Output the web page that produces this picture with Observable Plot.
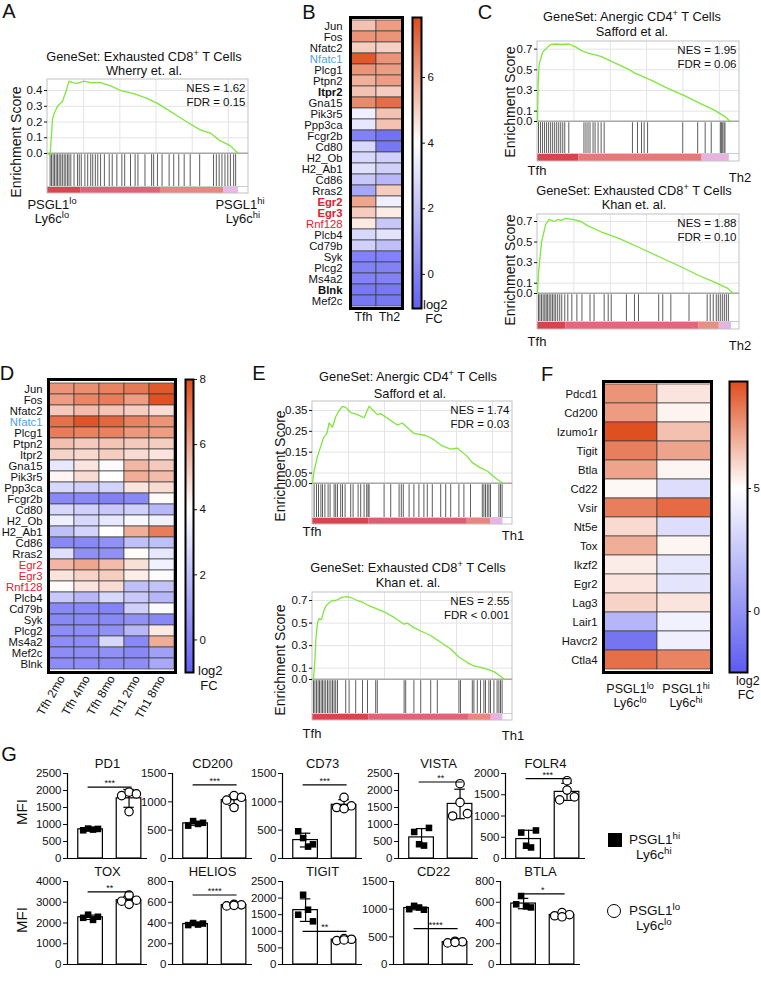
<!DOCTYPE html>
<html><head><meta charset="utf-8">
<script src="https://cdn.jsdelivr.net/npm/d3@7"></script>
<script src="https://cdn.jsdelivr.net/npm/@observablehq/plot@0.6"></script>
<style>
body{margin:0;background:#fff;}
#fig{position:relative;width:761px;height:981px;overflow:hidden;background:#fff;font-family:"Liberation Sans",Arial,Helvetica,sans-serif;color:#111;}
.lbl{position:absolute;white-space:nowrap;line-height:1;}
#fig svg{position:absolute;overflow:visible;}
sup{font-size:0.72em;vertical-align:baseline;position:relative;top:-0.5em;}
</style></head><body><div id="fig"></div>
<script>
// ================= DATA =================
// ---- Panel A (GSEA, Wherry exhausted CD8) ----
const aRank = [0, 1.3, 2.5, 3.5, 5.0, 7.4, 9.1, 10.7, 12.4, 14.9, 18.2, 21.5, 26.4, 31.4, 36.4, 43, 49.6, 54.5, 59.5, 64.5, 69.4, 76, 81, 86, 90.9, 95];
const aES = [0, -0.01, 0.22, 0.26, 0.30, 0.33, 0.39, 0.46, 0.45, 0.445, 0.46, 0.45, 0.45, 0.43, 0.40, 0.38, 0.35, 0.32, 0.28, 0.24, 0.20, 0.15, 0.13, 0.08, 0.05, 0.0];
const aHits = [1.3,2,2.8,3.5,4.3,5,5.8,6.6,7.4,8.3,9.1,10,10.7,11.6,13.2,14.9,15.8,16.8,18.6,20,21.5,22.5,23.8,25,26.4,28.3,30.7,32.2,34.5,37,38.4,41.3,43.6,45,48.5,51.8,52.8,54.7,57,60.5,62.8,65.3,68,71,75.7,82.6,84,85.4,86.8,88.3,89.7,91,92.6,93.6];
const aSegStart = [0, 16.5, 56.2, 87.6];
const aSegEnd = [16.5, 56.2, 87.6, 95];
const aSegColor = ["#d94550", "#df6277", "#e8877f", "#e9b8e6"];
const aStats = "NES = 1.62\nFDR = 0.15";

// ---- Panel C top (Anergic CD4, Safford) ----
const c1Rank = [0, 0.3, 0.8, 2.5, 5, 6.6, 9.1, 11.6, 15.7, 19, 22.3, 25.6, 31.4, 38, 44.6, 48, 56.2, 64.5, 72.7, 81, 87.6, 92.6, 95.5];
const c1ES = [0, 0.35, 0.55, 0.67, 0.72, 0.745, 0.75, 0.745, 0.75, 0.72, 0.68, 0.66, 0.63, 0.57, 0.51, 0.47, 0.40, 0.32, 0.25, 0.17, 0.11, 0.05, 0.0];
const c1Hits = [0.5,1.5,2.5,3.5,4.5,5.5,6.5,7.5,8.5,9.5,10.5,11.5,12.5,13.5,15.5,23,24,25,26,27.5,28.5,30,31.5,33,47,49.5,51.5,52.8,54.5,71.9,79.3,83,86,90.5,91,91.5,92.3,92.8];
const c1SegStart = [0, 20.5, 81.5];
const c1SegEnd = [20.5, 81.5, 95];
const c1SegColor = ["#d8434e", "#e27a78", "#e7b3e0"];
const c1Stats = "NES = 1.95\nFDR = 0.06";

// ---- Panel C bottom (Exhausted CD8, Khan) ----
const c2Rank = [0, 0.5, 2, 4, 5.8, 8.3, 10, 11.6, 14, 17.4, 21.5, 24.8, 31.4, 39.7, 51.2, 61, 71, 79.3, 87.6, 94.2, 97];
const c2ES = [0, 0.2, 0.5, 0.67, 0.72, 0.70, 0.72, 0.71, 0.73, 0.72, 0.70, 0.66, 0.60, 0.54, 0.44, 0.35, 0.26, 0.18, 0.11, 0.05, 0];
const c2Hits = [0.5,1.2,2,2.8,3.6,4.3,5,5.8,6.6,7.4,8.2,9,10,11,12,13.5,15,17,19.5,22,26,28,33,35,36.5,44,48,50,60,62,66,75,84,85.5,87,88.5,89.5,90.5,91.5,92.5,93.5,94.5];
const c2SegStart = [0, 14, 80, 90];
const c2SegEnd = [14, 80, 90, 96];
const c2SegColor = ["#d8434e", "#e0687a", "#e8907f", "#e6b3e2"];
const c2Stats = "NES = 1.88\nFDR = 0.10";

// ---- Panel E top (Anergic CD4, Safford) ----
const e1Rank = [0, 0.8, 2.5, 4.2, 5.5, 7.2, 8.3, 10, 11.6, 13.3, 15, 16.6, 19.1, 22.5, 25.8, 28.3, 32.4, 34.1, 42.4, 44.9, 50.7, 56.6, 60.7, 64.9, 69.1, 72.4, 77.4, 79.9, 84, 87.4, 89.9, 92.3, 95.3];
const e1ES = [0, 0.06, 0.13, 0.18, 0.22, 0.24, 0.29, 0.27, 0.32, 0.35, 0.37, 0.365, 0.34, 0.33, 0.315, 0.37, 0.33, 0.335, 0.28, 0.29, 0.24, 0.23, 0.21, 0.18, 0.165, 0.17, 0.13, 0.10, 0.075, 0.06, 0.04, 0.02, 0];
const e1Hits = [0.8,2,3,4.2,5,6.2,7.8,8.8,10.8,11.6,12.5,14.1,15,16.3,19.1,20.3,22.8,24.1,25.8,27.1,27.8,28.3,35.8,39.1,43.3,44.4,45.4,48.3,50.7,53.2,55.7,57.4,59.9,64.1,66.6,69.1,73.2,75.7,79,84.9,85.7,86.5,87.4,88.2,89,93.2,94,94.8];
const e1SegStart = [0, 28.3, 77.4, 89];
const e1SegEnd = [28.3, 77.4, 89, 95.2];
const e1SegColor = ["#d9444e", "#dd5f72", "#e8877e", "#e7b5e5"];
const e1Stats = "NES = 1.74\nFDR = 0.03";

// ---- Panel E bottom (Exhausted CD8, Khan) ----
const e2Rank = [0, 0.5, 1.2, 1.7, 2.5, 3.3, 4.5, 5.5, 6.7, 8.3, 10, 11.6, 13.3, 15, 17.5, 20, 22.5, 25, 27.5, 31.6, 35.8, 40.8, 45.8, 47.4, 50.7, 54.1, 59.1, 64.1, 69.1, 73.2, 77.4, 80.7, 85.7, 90.7, 94.8, 95.7];
const e2ES = [0, 0.0, 0.17, 0.36, 0.5, 0.54, 0.53, 0.6, 0.65, 0.68, 0.70, 0.70, 0.715, 0.73, 0.735, 0.72, 0.70, 0.685, 0.66, 0.63, 0.60, 0.55, 0.49, 0.50, 0.46, 0.43, 0.39, 0.33, 0.27, 0.20, 0.15, 0.12, 0.10, 0.07, 0.02, 0.0];
const e2Hits = [0.5,1.2,2,2.8,3.5,4.3,5,5.8,6.6,7.5,8.3,9.2,10,10.8,11.6,12.5,16.6,18.3,21.6,25,27.5,31.6,32.4,45.8,46.6,50.7,54.1,59.1,62.4,73.2,74,79.9,80.7,82.4,84,85.7,86.5,88.2,89,90.7,92.3,93.2,94,94.8];
const e2SegStart = [0, 28.3, 78, 89.4];
const e2SegEnd = [28.3, 78, 89.4, 95.2];
const e2SegColor = ["#d9444e", "#df6478", "#e7887f", "#e6b3e3"];
const e2Stats = "NES = 2.55\nFDR < 0.001";

// ---- Panel B heatmap ----
const bGenes = ["Jun","Fos","Nfatc2","Nfatc1","Plcg1","Ptpn2","Itpr2","Gna15","Pik3r5","Ppp3ca","Fcgr2b","Cd80","H2_Ob","H2_Ab1","Cd86","Rras2","Egr2","Egr3","Rnf128","Plcb4","Cd79b","Syk","Plcg2","Ms4a2","Blnk","Mef2c"];
const bCols = ["Tfh", "Th2"];
const bTfh = [5.3, 6.3, 5.1, 7.6, 6.3, 5.7, 5.3, 6.5, 3.5, 3.25, 0.0, 2.75, 2.75, 3.0, 2.2, 1.2, 5.9, 5.1, 4.45, 2.75, 2.5, 0.0, 0.0, 0.0, -0.3, -0.3];
const bTh2 = [6.1, 6.3, 5.0, 6.3, 6.1, 6.1, 5.1, 7.1, 5.3, 5.3, -0.5, -0.3, 2.5, 2.5, 1.7, 5.1, 3.5, 4.4, 2.2, 3.1, 2.0, 0.0, 0.0, 0.0, -0.3, -0.3];
const bTicks = [0, 2, 4, 6];
const bBold = ["Itpr2", "Egr2", "Egr3", "Blnk"];
const bRed = ["Egr2", "Egr3", "Rnf128"];
const bBlue = ["Nfatc1"];

// ---- Panel D heatmap ----
const dGenes = ["Jun","Fos","Nfatc2","Nfatc1","Plcg1","Ptpn2","Itpr2","Gna15","Pik3r5","Ppp3ca","Fcgr2b","Cd80","H2_Ob","H2_Ab1","Cd86","Rras2","Egr2","Egr3","Rnf128","Plcb4","Cd79b","Syk","Plcg2","Ms4a2","Mef2c","Blnk"];
const dCols = ["Tfh 2mo", "Tfh 4mo", "Tfh 8mo", "Th1 2mo", "Th1 8mo"];
const dTfh2 = [6.4, 6.2, 5.2, 7.2, 6.9, 5.4, 5.0, 3.25, 4.2, 2.75, 0.25, 2.75, 3.5, 2.0, 0.25, 3.0, 5.6, 4.6, 4.1, 2.25, 0.25, 0.25, 0.4, 0.4, 0.4, 0.4];
const dTfh4 = [6.5, 6.7, 5.5, 7.8, 6.8, 5.2, 4.9, 4.6, 4.8, 2.5, 0.25, 2.5, 2.75, 2.6, 0.25, 0.5, 6.0, 5.0, 4.6, 1.75, 0.25, 0.25, 0.4, 0.4, 0.4, 0.4];
const dTfh8 = [6.8, 6.9, 5.3, 7.4, 6.8, 5.3, 5.1, 3.85, 4.0, 2.6, 0.0, 2.25, 3.25, 4.0, 0.5, 0.5, 5.5, 5.1, 4.8, 2.75, 0.1, 0.25, 0.5, 2.75, 0.5, 0.4];
const dTh12 = [7.0, 6.2, 5.1, 6.8, 6.3, 5.2, 4.8, 5.6, 5.8, 4.6, 0.25, 2.5, 3.75, 5.8, 2.0, 4.1, 4.7, 4.4, 2.0, 2.25, 2.5, 0.5, 1.75, 0.25, 0.25, 0.4];
const dTh18 = [7.7, 7.9, 4.8, 6.4, 6.2, 5.1, 4.6, 5.2, 5.5, 4.8, 4.1, 1.75, 3.6, 6.9, 2.0, 3.25, 3.6, 3.9, 2.1, 1.75, 3.85, 0.25, 4.5, 5.8, 1.0, 1.25];
const dTicks = [0, 2, 4, 6, 8];
const dRed = ["Egr2", "Egr3", "Rnf128"];
const dBlue = ["Nfatc1"];

// ---- Panel F heatmap ----
const fGenes = ["Pdcd1","Cd200","Izumo1r","Tigit","Btla","Cd22","Vsir","Nt5e","Tox","Ikzf2","Egr2","Lag3","Lair1","Havcr2","Ctla4"];
const fCols = ["lo", "hi"];
const fLo = [7.6, 7.4, 9.25, 8.1, 7.2, 5.2, 8.1, 5.9, 7.0, 5.45, 5.65, 6.1, 1.6, -1.35, 8.5];
const fHi = [5.65, 5.3, 6.5, 7.2, 5.25, 3.5, 8.6, 3.5, 5.25, 3.9, 3.75, 5.65, 4.4, 4.25, 8.0];
const fTicks = [0, 5];

// ---- Panel G bar charts ----
const gMarkers = ["PD1", "CD200", "CD73", "VISTA", "FOLR4", "TOX", "HELIOS", "TIGIT", "CD22", "BTLA"];
const gHi = [[830, 880, 850, 870], [580, 660, 610, 630], [480, 360, 210, 250], [780, 420, 380, 900], [610, 300, 260, 660],
             [2250, 2400, 2150, 2300], [380, 400, 385, 395], [1500, 2100, 1650, 1300], [1000, 1060, 1030, 990], [580, 660, 560, 550]];
const gLo = [[1850, 1950, 1900, 1380], [1030, 1110, 1080, 900], [900, 1080, 930, 880], [1250, 2200, 1320, 1650], [1380, 1830, 1450, 1610],
             [3050, 3350, 3100, 2900], [565, 580, 575, 570], [720, 780, 760, 740], [390, 420, 410, 400], [470, 500, 480, 460]];
const gTicks = [[0,500,1000,1500,2000,2500], [0,500,1000,1500], [0,500,1000,1500], [0,500,1000,1500,2000,2500], [0,500,1000,1500,2000],
                [0,1000,2000,3000,4000], [0,200,400,600,800], [0,500,1000,1500,2000,2500], [0,500,1000,1500], [0,200,400,600,800]];
const gStars = ["***", "***", "***", "**", "***", "**", "****", "**", "****", "*"];
const gSig = [2100, 1300, 1300, 2250, 1880, 3500, 670, 1000, 650, 680];

// ================= RENDERING =================
const FONT = '"Liberation Sans", Arial, Helvetica, sans-serif';
const STYLE = {background: "transparent", fontFamily: FONT, overflow: "visible", color: "#111"};
const fig = document.getElementById("fig");
const GRID_X = [18, 36, 54, 72, 90];
const SQ_OFF = [-0.24, -0.08, 0.08, 0.24];
const CI_OFF = [-0.24, 0, 0.24, 0];

function put(svg, left, top) {
  svg.style.left = left + "px";
  svg.style.top = top + "px";
  fig.appendChild(svg);
}
function T(html, x, y, o = {}) {
  const d = document.createElement("div");
  d.className = "lbl";
  d.innerHTML = html;
  d.style.left = x + "px";
  d.style.top = y + "px";
  d.style.fontSize = (o.size || 12) + "px";
  if (o.weight) d.style.fontWeight = o.weight;
  if (o.color) d.style.color = o.color;
  const a = o.anchor || "middle";
  const tx = a === "start" ? "0" : a === "end" ? "-100%" : "-50%";
  d.style.transform = `translate(${tx},-50%)` + (o.rotate ? ` rotate(${o.rotate}deg)` : "");
  fig.appendChild(d);
  return d;
}

function gsea(c) {
  const ml = 32, mr = 2, mt = 1, mb = 1;
  const k = c.esH / c.esTop;
  const yMin = -c.hitsH / k;
  const yBar = -(c.hitsH - c.barH) / k;
  const yHit = -1.2 / k;
  const pts = c.rank.map((r, i) => ({r, v: c.es[i]}));
  const segMarks = c.segStart.map((a, i) =>
    Plot.rect([{a, b: c.segEnd[i]}], {x1: "a", x2: "b", y1: yMin, y2: yBar, fill: c.segColor[i]}));
  const svg = Plot.plot({
    width: ml + c.boxW + mr, height: mt + c.esH + c.hitsH + mb,
    marginLeft: ml, marginRight: mr, marginTop: mt, marginBottom: mb,
    x: {domain: [0, 100], axis: null},
    y: {domain: [yMin, c.esTop], axis: null},
    style: STYLE,
    marks: [
      Plot.ruleX(GRID_X, {y1: 0, y2: c.esTop, stroke: "#e4e4e4"}),
      Plot.ruleY(c.ticks.filter(t => t > 0), {stroke: "#e4e4e4"}),
      ...segMarks,
      Plot.ruleX(c.hits, {y1: yHit, y2: yBar, stroke: "#2a2a2a", strokeWidth: 0.9, strokeOpacity: 0.85}),
      Plot.ruleY([yBar], {stroke: "#cfcfcf"}),
      Plot.rect([0], {x1: 0, x2: 100, y1: yMin, y2: 0, fill: "none", stroke: "#c2c2c2"}),
      Plot.rect([0], {x1: 0, x2: 100, y1: 0, y2: c.esTop, fill: "none", stroke: "#c2c2c2"}),
      Plot.ruleY([0], {stroke: "#a8a8a8"}),
      Plot.line(pts, {x: "r", y: "v", stroke: "#7fe63c", strokeWidth: 1.3}),
      Plot.axisY(c.ticks, {anchor: "left", tickSize: 3, tickPadding: 2, tickFormat: d3.format(c.fmt), label: null, fontSize: 11.5}),
      Plot.text([c.stats], {frameAnchor: "top-right", dx: -3, dy: 3, lineAnchor: "top", textAnchor: "end", lineHeight: 1.22, fontSize: 11.5, fill: "#111"})
    ]
  });
  put(svg, c.boxL - ml, c.boxT - mt);
}

function labelGroups(genes, bold, red, blue) {
  const key = g => (red.includes(g) ? "#e3202b" : blue.includes(g) ? "#4fa3e3" : "#111") + "|" + (bold.includes(g) ? "bold" : "normal");
  const groups = d3.group(genes, key);
  return Array.from(groups, ([k, gs]) => ({color: k.split("|")[0], weight: k.split("|")[1], genes: gs}));
}

function heatmap(o) {
  const data = o.genes.flatMap((g, i) => o.cols.map((c, j) => ({g, c, v: o.vals[j][i]})));
  const marks = [
    Plot.cell(data, {x: "c", y: "g", fill: "v", stroke: "#3a3a3a", strokeWidth: 0.7, inset: 0}),
    Plot.frame({stroke: "#000", strokeWidth: 3})
  ];
  for (const grp of o.groups) {
    marks.push(Plot.text(grp.genes, {y: d => d, frameAnchor: "left", textAnchor: "end", dx: -o.gap,
      fontSize: o.labelSize, fill: grp.color, fontWeight: grp.weight}));
  }
  if (o.xAxis) marks.push(Plot.axisX(o.xAxis));
  const svg = Plot.plot({
    width: o.labelW + o.cols.length * o.cellW + 3, height: 2 + o.genes.length * o.rowH + o.mb,
    marginLeft: o.labelW, marginRight: 3, marginTop: 2, marginBottom: o.mb,
    x: {domain: o.cols, padding: 0, axis: null},
    y: {domain: o.genes, padding: 0, axis: null},
    color: {type: "linear", domain: o.cdomain, range: o.crange, interpolate: "rgb"},
    style: STYLE,
    marks
  });
  put(svg, o.boxL - o.labelW, o.boxT - 2);
}

function colorbar(o) {
  const lo = o.cdomain[0], hi = o.cdomain[o.cdomain.length - 1];
  const n = 160, step = (hi - lo) / n;
  const bands = d3.range(n).map(i => lo + i * step);
  const svg = Plot.plot({
    width: 2 + o.w + 26, height: 2 + o.h + 2,
    marginLeft: 2, marginRight: 26, marginTop: 2, marginBottom: 2,
    x: {domain: [0, 1], axis: null},
    y: {domain: [lo, hi], axis: null},
    color: {type: "linear", domain: o.cdomain, range: o.crange, interpolate: "rgb"},
    style: STYLE,
    marks: [
      Plot.rect(bands, {x1: 0, x2: 1, y1: d => d, y2: d => Math.min(hi, d + step * 1.4), fill: d => d + step / 2}),
      Plot.frame({stroke: "#000", strokeWidth: 2}),
      Plot.axisY(o.ticks, {anchor: "right", tickSize: 3, tickPadding: 3, fontSize: 11.5, label: null})
    ]
  });
  put(svg, o.left - 2, o.top - 2);
}

function barPanel(i, axisX, plotTop, plotH) {
  const hi = gHi[i], lo = gLo[i], ticks = gTicks[i];
  const yMax = ticks[ticks.length - 1];
  const C = [0.75, 2.0];
  const stats = [hi, lo].map((v, j) => ({c: C[j], m: d3.mean(v), s: d3.deviation(v)}));
  const sq = hi.map((v, k) => ({x: C[0] + SQ_OFF[k], y: v}));
  const ci = lo.map((v, k) => ({x: C[1] + CI_OFF[k], y: v}));
  const ml = 36, mr = 4, mt = 26, mb = 4, pw = 80;
  const svg = Plot.plot({
    width: ml + pw + mr, height: mt + plotH + mb,
    marginLeft: ml, marginRight: mr, marginTop: mt, marginBottom: mb,
    x: {domain: [0, 2.6], axis: null},
    y: {domain: [0, yMax], axis: null},
    style: STYLE,
    marks: [
      Plot.rect(stats, {x1: d => d.c - 0.4, x2: d => d.c + 0.4, y1: 0, y2: "m", fill: "white", stroke: "black", strokeWidth: 1.2}),
      Plot.ruleX(stats, {x: "c", y1: d => d.m - d.s, y2: d => d.m + d.s, stroke: "black", strokeWidth: 1.2}),
      Plot.ruleY(stats, {y: d => d.m + d.s, x1: d => d.c - 0.17, x2: d => d.c + 0.17, stroke: "black", strokeWidth: 1.2}),
      Plot.ruleY(stats, {y: d => d.m - d.s, x1: d => d.c - 0.17, x2: d => d.c + 0.17, stroke: "black", strokeWidth: 1.2}),
      Plot.dot(sq, {x: "x", y: "y", symbol: "square", r: 3.7, fill: "black", stroke: "none"}),
      Plot.dot(ci, {x: "x", y: "y", symbol: "circle", r: 4.2, fill: "white", stroke: "black", strokeWidth: 1.2}),
      Plot.ruleX([0], {y1: 0, y2: yMax, stroke: "black", strokeWidth: 1.2}),
      Plot.ruleY([0], {x1: 0, x2: 2.6, stroke: "black", strokeWidth: 1.2}),
      Plot.axisY(ticks, {anchor: "left", tickSize: 4, tickPadding: 2, tickFormat: d3.format("d"), fontSize: 11.5, label: null}),
      Plot.ruleY([gSig[i]], {x1: C[0] - 0.08, x2: C[1] + 0.1, stroke: "black", strokeWidth: 1.2}),
      Plot.text([gStars[i]], {x: (C[0] + C[1]) / 2, y: gSig[i], dy: -1, lineAnchor: "bottom", fontSize: 9, fill: "#111"}),
      Plot.text([gMarkers[i]], {frameAnchor: "top", dy: -15, fontSize: 13, fill: "#111"})
    ]
  });
  put(svg, axisX - ml, plotTop - mt);
}

// ---------- Panel letters ----------
T("A", 9, 11, {size: 20}); T("B", 309, 12, {size: 20}); T("C", 485, 12, {size: 20});
T("D", 7, 373, {size: 20}); T("E", 259, 373, {size: 20}); T("F", 547, 374, {size: 20});
T("G", 9, 754, {size: 20});

// ---------- GSEA panels ----------
gsea({boxL: 47, boxT: 79, boxW: 201, esH: 74, esTop: 0.47, hitsH: 40, barH: 7, ticks: [0, 0.1, 0.2, 0.3, 0.4], fmt: ".1f",
  rank: aRank, es: aES, hits: aHits, segStart: aSegStart, segEnd: aSegEnd, segColor: aSegColor, stats: aStats});
T("GeneSet: Exhausted CD8<sup>+</sup> T Cells", 144, 57, {size: 12.8});
T("Wherry et. al.", 144, 71, {size: 12.8});
T("Enrichment Score", 16, 142, {size: 14, rotate: -90});
T("PSGL1<sup>lo</sup>", 52, 205, {size: 13}); T("Ly6c<sup>lo</sup>", 52, 219, {size: 13});
T("PSGL1<sup>hi</sup>", 240, 205, {size: 13}); T("Ly6c<sup>hi</sup>", 243, 219, {size: 13});

gsea({boxL: 537, boxT: 41, boxW: 202, esH: 80, esTop: 0.774, hitsH: 40, barH: 8, ticks: [0, 0.1, 0.3, 0.5, 0.7], fmt: ".1f",
  rank: c1Rank, es: c1ES, hits: c1Hits, segStart: c1SegStart, segEnd: c1SegEnd, segColor: c1SegColor, stats: c1Stats});
T("GeneSet: Anergic CD4<sup>+</sup> T Cells", 632, 17, {size: 12.8});
T("Safford et al.", 632, 32, {size: 12.8});
T("Enrichment Score", 510, 102, {size: 14, rotate: -90});
T("Tfh", 537, 170, {size: 13}); T("Th2", 740, 177, {size: 13});

gsea({boxL: 537, boxT: 214, boxW: 202, esH: 79, esTop: 0.768, hitsH: 36, barH: 8, ticks: [0, 0.1, 0.3, 0.5, 0.7], fmt: ".1f",
  rank: c2Rank, es: c2ES, hits: c2Hits, segStart: c2SegStart, segEnd: c2SegEnd, segColor: c2SegColor, stats: c2Stats});
T("GeneSet: Exhausted CD8<sup>+</sup> T Cells", 634, 191, {size: 12.8});
T("Khan et. al.", 634, 205, {size: 12.8});
T("Enrichment Score", 510, 270, {size: 14, rotate: -90});
T("Tfh", 537, 341, {size: 13}); T("Th2", 740, 345, {size: 13});

gsea({boxL: 312, boxT: 401, boxW: 200, esH: 82, esTop: 0.393, hitsH: 41, barH: 7, ticks: [0, 0.05, 0.15, 0.25, 0.35], fmt: ".2f",
  rank: e1Rank, es: e1ES, hits: e1Hits, segStart: e1SegStart, segEnd: e1SegEnd, segColor: e1SegColor, stats: e1Stats});
T("GeneSet: Anergic CD4<sup>+</sup> T Cells", 408, 377, {size: 12.8});
T("Safford et al.", 410, 394, {size: 12.8});
T("Enrichment Score", 280, 466, {size: 14, rotate: -90});
T("Tfh", 312, 531, {size: 13}); T("Th1", 513, 535, {size: 13});

gsea({boxL: 312, boxT: 592, boxW: 200, esH: 87, esTop: 0.771, hitsH: 41, barH: 7, ticks: [0, 0.1, 0.3, 0.5, 0.7], fmt: ".1f",
  rank: e2Rank, es: e2ES, hits: e2Hits, segStart: e2SegStart, segEnd: e2SegEnd, segColor: e2SegColor, stats: e2Stats});
T("GeneSet: Exhausted CD8<sup>+</sup> T Cells", 408, 568, {size: 12.8});
T("Khan et. al.", 408, 583, {size: 12.8});
T("Enrichment Score", 280, 660, {size: 14, rotate: -90});
T("Tfh", 312, 733, {size: 13}); T("Th1", 513, 735, {size: 13});

// ---------- Heatmaps ----------
const bScale = {cdomain: [-1.04, 4.0, 7.83], crange: ["#6161f1", "#ffffff", "#de4c1c"]};
heatmap({genes: bGenes, cols: bCols, vals: [bTfh, bTh2], boxL: 350, boxT: 17, cellW: 26, rowH: 291 / 26, labelW: 62, gap: 8,
  labelSize: 11.3, mb: 20, groups: labelGroups(bGenes, bBold, bRed, bBlue),
  xAxis: {tickSize: 0, tickPadding: 4, fontSize: 12.5, label: null}, ...bScale});
colorbar({left: 411.5, top: 17, w: 9, h: 291, ticks: bTicks, ...bScale});
T("log2", 423, 304, {size: 13, anchor: "start"}); T("FC", 434, 318, {size: 13});

const dScale = {cdomain: [-1.0, 4.0, 8.0], crange: ["#6161f1", "#ffffff", "#de4c1c"]};
heatmap({genes: dGenes, cols: dCols, vals: [dTfh2, dTfh4, dTfh8, dTh12, dTh18], boxL: 48, boxT: 379, cellW: 25.4, rowH: 293 / 26,
  labelW: 48, gap: 6, labelSize: 11.3, mb: 52, groups: labelGroups(dGenes, [], dRed, dBlue),
  xAxis: {tickSize: 0, tickPadding: 4, tickRotate: -60, fontSize: 12, label: null}, ...dScale});
colorbar({left: 185, top: 379, w: 8, h: 293, ticks: dTicks, ...dScale});
T("log2", 198, 670, {size: 13, anchor: "start"}); T("FC", 209, 685, {size: 13});

const fScale = {cdomain: [-2.48, 5.0, 9.35], crange: ["#5c5cf0", "#ffffff", "#de4c1c"]};
heatmap({genes: fGenes, cols: fCols, vals: [fLo, fHi], boxL: 603, boxT: 381, cellW: 54, rowH: 291 / 15, labelW: 58, gap: 6,
  labelSize: 11.3, mb: 2, groups: labelGroups(fGenes, [], [], []), xAxis: null, ...fScale});
colorbar({left: 729, top: 381, w: 18, h: 291, ticks: fTicks, ...fScale});
T("PSGL1<sup>lo</sup>", 630, 689, {size: 12.5}); T("Ly6c<sup>lo</sup>", 630, 703, {size: 12.5});
T("PSGL1<sup>hi</sup>", 686, 689, {size: 12.5}); T("Ly6c<sup>hi</sup>", 686, 703, {size: 12.5});
T("log2", 736, 681, {size: 12.5, anchor: "start"}); T("FC", 746, 695, {size: 12.5});

// ---------- Panel G ----------
const rowAxis1 = [67, 172, 282, 398, 505];
const rowAxis2 = [67, 172, 282, 393, 500];
rowAxis1.forEach((x, j) => barPanel(j, x, 773, 85));
rowAxis2.forEach((x, j) => barPanel(j + 5, x, 881, 83));
T("MFI", 21, 812, {size: 15, rotate: -90});
T("MFI", 21, 920, {size: 15, rotate: -90});

// legend
const sqEl = document.createElement("div");
sqEl.style.cssText = "position:absolute;left:608px;top:833px;width:14px;height:14px;background:#000;";
fig.appendChild(sqEl);
T("PSGL1<sup>hi</sup>", 629, 840, {size: 13.5, anchor: "start"});
T("Ly6c<sup>hi</sup>", 636, 855, {size: 13.5, anchor: "start"});
const ciEl = document.createElement("div");
ciEl.style.cssText = "position:absolute;left:607px;top:904px;width:14px;height:14px;border:1.5px solid #000;border-radius:50%;box-sizing:border-box;background:#fff;";
fig.appendChild(ciEl);
T("PSGL1<sup>lo</sup>", 629, 911, {size: 13.5, anchor: "start"});
T("Ly6c<sup>lo</sup>", 636, 926, {size: 13.5, anchor: "start"});
</script></body></html>
